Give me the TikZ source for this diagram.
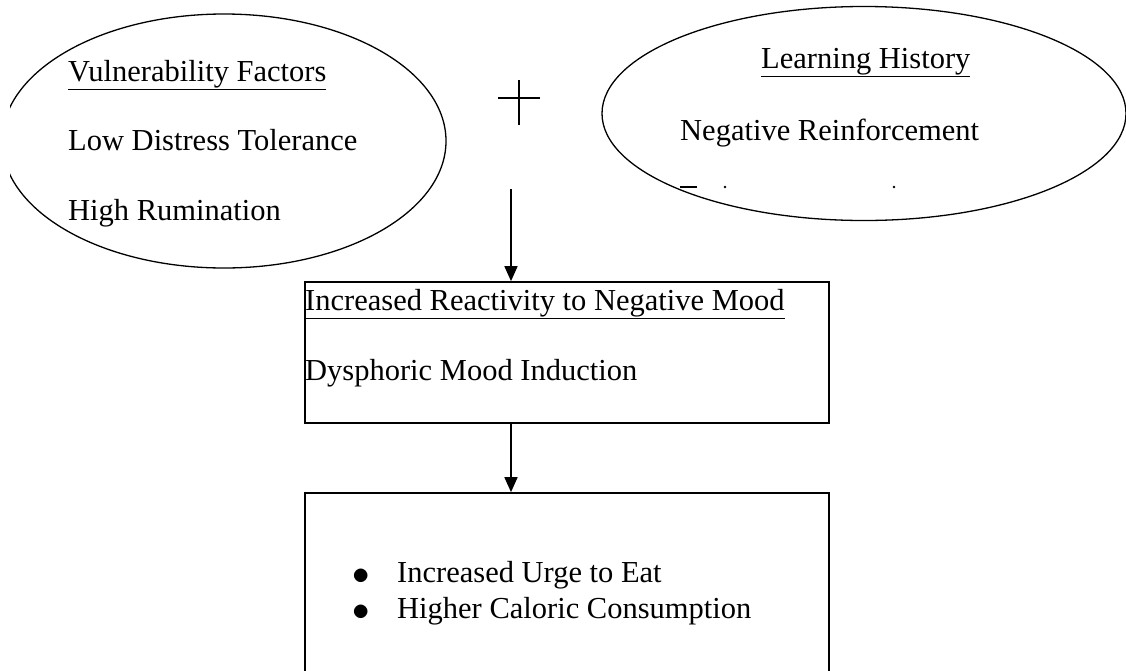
\documentclass[tikz,border=0pt]{standalone}
\usepackage{fontspec}
\setmainfont{Liberation Serif}
\usetikzlibrary{shapes.geometric,arrows.meta}

\tikzset{
  blob/.style={ellipse, draw, line width=1.3pt, inner sep=0pt},
  box/.style={draw, line width=1.7pt, inner sep=0pt, minimum width=524pt},
  txt/.style={font=\fontsize{30.5}{36}\selectfont, anchor=base west, inner sep=0pt},
  flow/.style={line width=1.7pt, -{Triangle[length=15pt,width=13pt]}}
}

\begin{document}
\begin{tikzpicture}[x=1pt,y=-1pt]
  \useasboundingbox (0,0) rectangle (1126,670);
  \clip (0,0) rectangle (1126,670);
  % left ellipse, cut off at the page edge
  \begin{scope}
    \clip (10,0) rectangle (1126,670);
    \node[blob, minimum width=444pt, minimum height=254pt] (vuln) at (224,141) {};
  \end{scope}
  \node[txt] (vulnhead) at (68,81) {\underline{Vulnerability Factors}};
  \node[txt] (distress) at (68,150) {Low Distress Tolerance};
  \node[txt] (rumin) at (68,220) {High Rumination};
  % right ellipse
  \node[blob, minimum width=524pt, minimum height=214pt] (learn) at (864,113.5) {};
  \node[txt] (learnhead) at (761,68) {\underline{Learning History}};
  \node[txt] (negreinf) at (680,140) {Negative Reinforcement};
  % what is left of the hidden third line
  \draw[line width=1.8pt] (680,187) -- (697,187);
  \foreach \x in {725, 894} { \fill (\x,187) circle (1.4); }
  % plus sign
  \draw[line width=1.2pt] (498,98) -- (540,98);
  \draw[line width=1.2pt] (519,80) -- (519,125);
  % boxes
  \node[box, minimum height=141pt] (react) at (567,352.5) {};
  \node[txt] (reacthead) at (305,310) {\underline{Increased Reactivity to Negative Mood}};
  \node[txt] (dysph) at (305,380) {Dysphoric Mood Induction};
  \node[box, minimum height=217pt] (urge) at (567,601.5) {};
  \foreach \y/\t [count=\i] in {582/Increased Urge to Eat, 618/Higher Caloric Consumption} {
    \node[txt, anchor=base] (dot\i) at (361,\y) {\raisebox{-2pt}{\scalebox{1.4}{$\bullet$}}};
    \node[txt] (item\i) at (397,\y) {\t};
  }
  % arrows
  \coordinate (gap) at (511,189);
  \draw[flow] (gap) -- (gap |- react.north);
  \draw[flow] ([xshift=-56pt]react.south) -- ([xshift=-56pt]urge.north);
\end{tikzpicture}
\end{document}
